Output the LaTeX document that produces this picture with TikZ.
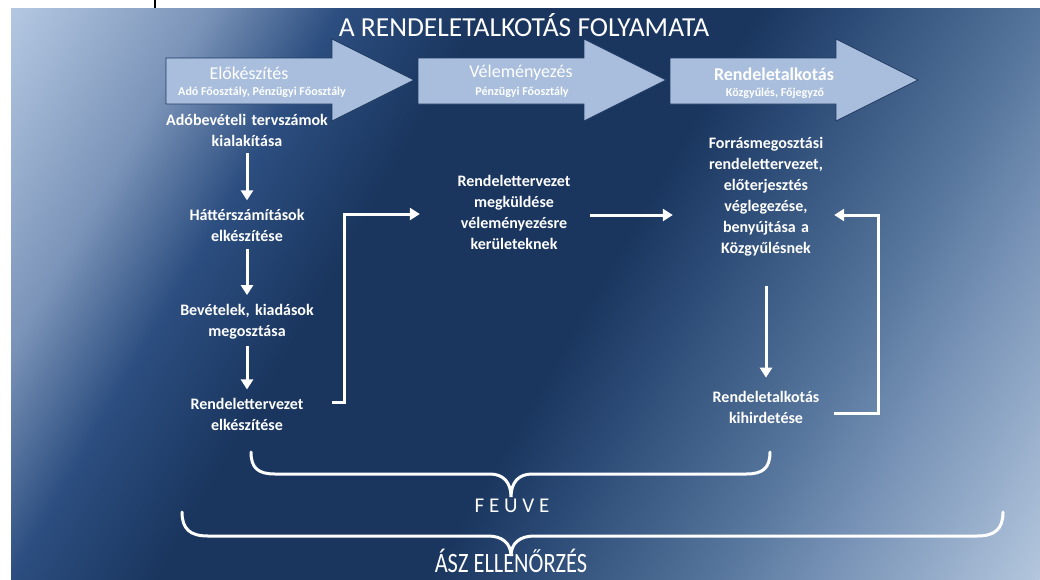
\documentclass[tikz,border=0pt]{standalone}
\usepackage{fontspec}
\setmainfont{Carlito}
\usetikzlibrary{arrows.meta, positioning}

\definecolor{bgA}{HTML}{B4C8E2}
\definecolor{bgB}{HTML}{7A93B8}
\definecolor{bgC}{HTML}{2C4E80}
\definecolor{bgD}{HTML}{1A365F}
\definecolor{bgE}{HTML}{2B4A75}
\definecolor{bgF}{HTML}{56759C}
\definecolor{bgG}{HTML}{7A95B8}
\definecolor{bgH}{HTML}{B3C6DD}
\definecolor{stagefill}{HTML}{A8BEDC}
\definecolor{stageline}{HTML}{1F3A60}

\pgfdeclarehorizontalshading{bgshade}{100bp}{color(0bp)=(bgA); color(25bp)=(bgA); color(32.3bp)=(bgB); color(37.1bp)=(bgC); color(42.5bp)=(bgD); color(52.5bp)=(bgD); color(56bp)=(bgE); color(62.9bp)=(bgF); color(67.5bp)=(bgG); color(75bp)=(bgH); color(100bp)=(bgH)}

\begin{document}
\begin{tikzpicture}[
    x=1pt, y=-1pt,
    every node/.style={text=white, inner sep=0pt},
    stage/.style={draw=stageline, line width=0.8pt, fill=stagefill},
    stagehead/.style={font=\fontsize{18}{20}\selectfont},
    stagesub/.style={font=\fontsize{12}{14}\selectfont\bfseries},
    task/.style={font=\fontsize{16}{21}\selectfont\bfseries, align=center, text width=170pt},
    flow/.style={-{Triangle[length=10pt,width=12pt]}, line width=3pt, draw=white, shorten <=7pt, shorten >=9pt},
    brace/.style={draw=white, line width=3pt, line cap=round}
]
\useasboundingbox (0,0) rectangle (1040,579);
\fill[white] (0,0) rectangle (1040,579);
\begin{scope}
  \clip (11,8) rectangle (1040,579);
  \shade[shading=bgshade, transform canvas={rotate around={-30:(525.5,293.5)}}]
    (-62.8,-356.5) rectangle (1113.8,943.5);
\end{scope}
\fill[black] (154,0) rectangle (156,8);

\node[font=\fontsize{27.5}{30}\selectfont] (title) at (524,25) {A RENDELETALKOTÁS FOLYAMATA};

% stage arrows
\foreach \x in {166,418,670}
  \draw[stage] (\x,58) -- ++(166,0) -- ++(0,-19) -- ++(82,41) -- ++(-82,41) -- ++(0,-17) -- ++(-166,0) -- cycle;

\node[stagehead] (prep) at (249,73) {Előkészítés};
\node[stagesub] (prepsub) at (262,92) {Adó Főosztály, Pénzügyi Főosztály};
\node[stagehead] (opin) at (521,73) {Véleményezés};
\node[stagesub] (opinsub) at (522,92) {Pénzügyi Főosztály};
\node[stagehead, font=\fontsize{18}{20}\selectfont\bfseries] (decree) at (774,74) {Rendeletalkotás};
\node[stagesub] (decreesub) at (775,93) {Közgyűlés, Főjegyző};

% left column
\node[task] (adob) at (247,130) {Adóbevételi tervszámok\\kialakítása};
\node[task, below=63pt of adob] (hatter) {Háttérszámítások\\elkészítése};
\node[task, below=62pt of hatter] (bevet) {Bevételek, kiadások\\megosztása};
\node[task, below=59pt of bevet] (rtterv) {Rendelettervezet\\elkészítése};

% middle and right
\node[task, text width=150pt] (megk) at (514,212) {Rendelettervezet\\megküldése\\véleményezésre\\kerületeknek};
\node[task, text width=130pt] (forras) at (766,197) {Forrásmegosztási\\rendelettervezet,\\előterjesztés\\véglegezése,\\benyújtása a\\Közgyűlésnek};
\node[task, text width=120pt] (kihird) at (766,407) {Rendeletalkotás\\kihirdetése};

\draw[flow] (adob) -- (hatter);
\draw[flow] (hatter) -- (bevet);
\draw[flow] (bevet) -- (rtterv);
\draw[flow, shorten <=0pt, shorten >=19pt] ([yshift=12pt]rtterv.east) -- ++(12,0) |- ([yshift=-2pt]megk.west);
\draw[flow, shorten <=1pt, shorten >=28pt] ([yshift=-3pt]megk.east) -- ([yshift=-3pt]megk.east -| forras.west);
\draw[flow, shorten <=29pt, shorten >=13pt] (forras.south) -- (kihird.north);
\draw[flow, shorten <=0pt, shorten >=0pt] ([xshift=8pt,yshift=-6pt]kihird.east) -- ++(44,0) |- ([xshift=3pt,yshift=-18pt]forras.east);

% control braces
\draw[brace] (251,452) .. controls (251,468) and (258,474) .. (275,474) -- (490,474)
  .. controls (503,474) and (511,482) .. (511,497) .. controls (511,482) and (519,474) .. (532,474)
  -- (746,474) .. controls (763,474) and (770,468) .. (770,452);
\draw[brace] (182,512) .. controls (182,529) and (190,536) .. (208,536) -- (488,536)
  .. controls (502,536) and (511,543) .. (511,556) .. controls (511,543) and (520,536) .. (534,536)
  -- (977,536) .. controls (995,536) and (1003,529) .. (1003,512);

\node[font=\fontsize{21}{24}\selectfont] (feuve) at (512,506) {F E U V E};
\node[font=\fontsize{28}{30}\selectfont] (asz) at (511,561) {\scalebox{0.8}[1]{ÁSZ ELLENŐRZÉS}};
\end{tikzpicture}
\end{document}
